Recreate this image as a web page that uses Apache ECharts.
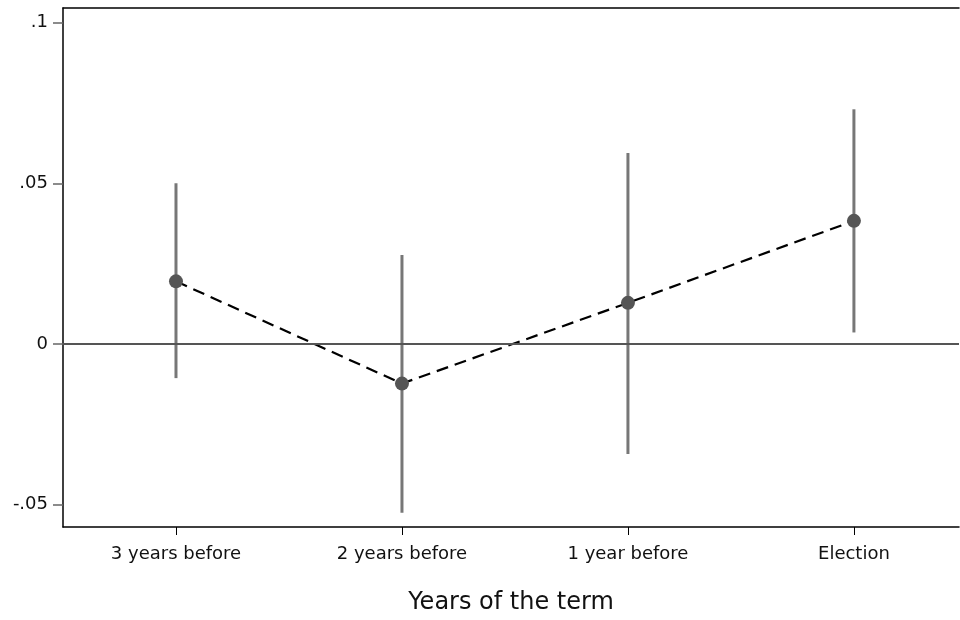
<!DOCTYPE html>
<html>
<head>
<meta charset="utf-8">
<script src="https://cdn.jsdelivr.net/npm/echarts@6/dist/echarts.min.js"></script>
<style>html,body{margin:0;padding:0;background:#fff;overflow:hidden;}#c{width:960px;height:620px;}</style>
</head>
<body>
<div id="c"></div>
<script>
var categories = ['3 years before', '2 years before', '1 year before', 'Election'];
var estimates = [0.0195, -0.0123, 0.0128, 0.0383];
var ciLower = [-0.0106, -0.0525, -0.0342, 0.0036];
var ciUpper = [0.0500, 0.0277, 0.0594, 0.0730];
var yTickValues = [-0.05, 0, 0.05, 0.1];
var yTickLabels = ['-.05', '0', '.05', '.1'];
var xTickValues = [1, 2, 3, 4];

var font = 'DejaVu Sans, Liberation Sans, Arial, sans-serif';
var chart = echarts.init(document.getElementById('c'));
var ciData = categories.map(function (c, i) { return [xTickValues[i], ciLower[i], ciUpper[i]]; });
var estData = categories.map(function (c, i) { return [xTickValues[i], estimates[i]]; });
var xMin = 0.5, xMax = 4.465;

chart.setOption({
  animation: false,
  grid: { left: 63, top: 8, right: 1, bottom: 90 },
  xAxis: [{
    type: 'value',
    min: xMin,
    max: xMax,
    splitLine: { show: false },
    axisLine: { onZero: false, lineStyle: { color: '#000', width: 1.5 } },
    axisTick: { show: true, length: 8, customValues: xTickValues, lineStyle: { color: '#000', width: 1 } },
    axisLabel: {
      fontFamily: font, fontSize: 18, color: '#111', margin: 18,
      customValues: xTickValues,
      formatter: function (v) { var i = xTickValues.indexOf(Math.round(v)); return i >= 0 ? categories[i] : ''; }
    },
    name: 'Years of the term',
    nameLocation: 'middle',
    nameGap: 64,
    nameTextStyle: { fontFamily: font, fontSize: 24, color: '#111' }
  }, {
    type: 'value',
    position: 'top',
    min: xMin,
    max: xMax,
    splitLine: { show: false },
    axisLine: { show: true, onZero: false, lineStyle: { color: '#000', width: 1.5 } },
    axisTick: { show: false },
    axisLabel: { show: false }
  }],
  yAxis: {
    type: 'value',
    min: -0.0569,
    max: 0.1045,
    splitLine: { show: false },
    axisLine: { show: true, onZero: false, lineStyle: { color: '#000', width: 1.5 } },
    axisTick: { show: true, length: 10, customValues: yTickValues, lineStyle: { color: '#666', width: 1.5 } },
    axisLabel: {
      fontFamily: font, fontSize: 18, color: '#111', margin: 15,
      customValues: yTickValues,
      formatter: function (v) {
        for (var i = 0; i < yTickValues.length; i++) {
          if (Math.abs(v - yTickValues[i]) < 1e-9) return yTickLabels[i];
        }
        return '';
      }
    }
  },
  series: [
    {
      type: 'line',
      data: [],
      markLine: {
        silent: true,
        symbol: ['none', 'none'],
        label: { show: false },
        lineStyle: { color: '#555', width: 2, type: 'solid' },
        data: [{ yAxis: 0 }]
      }
    },
    {
      type: 'custom',
      data: ciData,
      z: 3,
      renderItem: function (params, api) {
        var p1 = api.coord([api.value(0), api.value(1)]);
        var p2 = api.coord([api.value(0), api.value(2)]);
        return {
          type: 'line',
          shape: { x1: p1[0], y1: p1[1], x2: p2[0], y2: p2[1] },
          style: { stroke: '#777', lineWidth: 3 }
        };
      }
    },
    {
      type: 'line',
      data: estData,
      symbol: 'none',
      z: 4,
      lineStyle: { color: '#000', width: 2.2, type: [12, 7] }
    },
    {
      type: 'scatter',
      data: estData,
      symbol: 'circle',
      symbolSize: 14,
      z: 5,
      itemStyle: { color: '#555', opacity: 1 }
    }
  ]
});
</script>
</body>
</html>
